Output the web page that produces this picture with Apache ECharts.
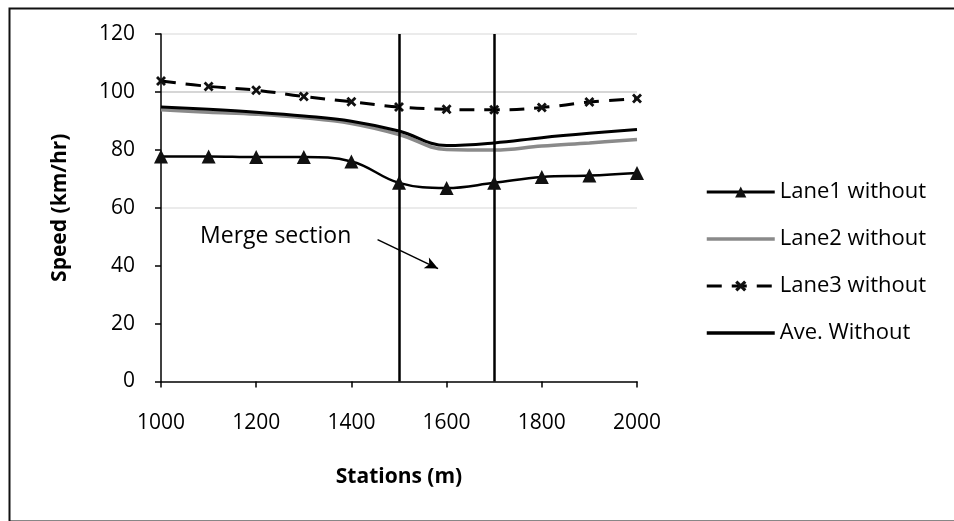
<!DOCTYPE html>
<html>
<head>
<meta charset="utf-8">
<script src="https://cdn.jsdelivr.net/npm/echarts@6/dist/echarts.min.js"></script>
<style>
html,body{margin:0;padding:0;background:#fff;}
#chart{width:954px;height:521px;}
</style>
</head>
<body>
<div id="chart"></div>
<script>
const stations = [1000, 1100, 1200, 1300, 1400, 1500, 1600, 1700, 1800, 1900, 2000];
const lane1 = [77.7, 77.7, 77.5, 77.5, 76.0, 68.6, 66.8, 68.6, 70.6, 71.1, 72.0];
const lane2 = [93.8, 93.0, 92.3, 91.1, 89.1, 85.3, 80.1, 79.9, 81.3, 82.4, 83.6];
const lane3 = [103.8, 101.9, 100.6, 98.4, 96.6, 94.8, 94.0, 93.8, 94.6, 96.5, 97.7];
const ave = [94.8, 94.0, 93.0, 91.7, 89.9, 86.5, 81.5, 82.4, 84.2, 85.7, 87.0];
const seriesNames = ['Lane1 without', 'Lane2 without', 'Lane3 without', 'Ave. Without'];
const mergeLines = [1500, 1700];
const annotation = {text: 'Merge section', textAt: [1082, 50], arrowFrom: [1455, 49], arrowTo: [1582, 39]};
const yTicks = {min: 0, max: 120, interval: 20};
const xTicks = {min: 1000, max: 2000, interval: 200};

const FONT = 'Open Sans';
const pair = (arr) => stations.map((s, i) => [s, arr[i]]);
const xMark = 'path://M0,2 L2,0 L5,3 L8,0 L10,2 L7,5 L10,8 L8,10 L5,7 L2,10 L0,8 L3,5 Z';
const noSymbol = {color: 'rgba(0,0,0,0)', borderWidth: 0};

const chart = echarts.init(document.getElementById('chart'));
chart.setOption({
  animation: false,
  backgroundColor: '#fff',
  textStyle: {fontFamily: FONT, color: '#000'},
  graphic: [{
    type: 'rect', left: 7, top: 6, shape: {width: 970, height: 513},
    style: {fill: 'none', stroke: '#111', lineWidth: 2}, z: -1
  }],
  grid: {left: 161, right: 317, top: 34, bottom: 521 - 381.5},
  legend: {
    orient: 'vertical', left: 705, top: 181, padding: 0,
    itemWidth: 68, itemHeight: 14, itemGap: 25,
    textStyle: {fontFamily: FONT, fontSize: 22, color: '#000'},
    data: [
      {name: seriesNames[0], lineStyle: {width: 3}},
      {name: seriesNames[1], itemStyle: noSymbol, lineStyle: {width: 3.5}},
      {name: seriesNames[2], lineStyle: {width: 3}},
      {name: seriesNames[3], itemStyle: noSymbol, lineStyle: {width: 3.5}}
    ]
  },
  xAxis: {
    type: 'value', min: xTicks.min, max: xTicks.max, interval: xTicks.interval,
    name: 'Stations (m)', nameLocation: 'middle', nameGap: 85,
    nameTextStyle: {fontFamily: FONT, fontSize: 21, fontWeight: 'bold', color: '#000'},
    axisLine: {lineStyle: {color: '#000', width: 1.5}},
    axisTick: {show: true, length: 6, lineStyle: {color: '#000', width: 1.5}},
    axisLabel: {fontFamily: FONT, fontSize: 21, color: '#000', margin: 31, formatter: v => String(v)},
    splitLine: {show: false}
  },
  yAxis: {
    type: 'value', min: yTicks.min, max: yTicks.max, interval: yTicks.interval,
    name: 'Speed (km/hr)', nameLocation: 'middle', nameGap: 90, nameRotate: 90,
    nameTextStyle: {fontFamily: FONT, fontSize: 21, fontWeight: 'bold', color: '#000'},
    axisLine: {show: true, lineStyle: {color: '#000', width: 1.5}},
    axisTick: {show: true, length: 6, lineStyle: {color: '#000', width: 1.5}},
    axisLabel: {fontFamily: FONT, fontSize: 21, color: '#000', margin: 26, formatter: v => String(v)},
    splitLine: {show: true, lineStyle: {color: ['rgba(0,0,0,0)', 'rgba(0,0,0,0)', 'rgba(0,0,0,0)', '#e4e4e4', 'rgba(0,0,0,0)', '#c8c8c8', '#e4e4e4'], width: 1.5}}
  },
  series: [
    {
      name: seriesNames[0], type: 'line', smooth: 0.4, data: pair(lane1),
      symbol: 'triangle', symbolSize: 14,
      lineStyle: {color: '#000', width: 2.5},
      itemStyle: {color: '#111'}, z: 5,
      markLine: {
        silent: true, symbol: ['none', 'none'], label: {show: false},
        lineStyle: {color: '#000', width: 2.5, type: 'solid'},
        data: mergeLines.map(v => ({xAxis: v}))
      }
    },
    {
      name: seriesNames[1], type: 'line', smooth: 0.4, data: pair(lane2),
      symbol: 'none',
      lineStyle: {color: '#8a8a8a', width: 3.5},
      itemStyle: {color: '#8a8a8a'}, z: 3
    },
    {
      name: seriesNames[2], type: 'line', smooth: 0.4, data: pair(lane3),
      symbol: xMark, symbolSize: 10,
      lineStyle: {color: '#000', width: 3, type: [15, 10]},
      itemStyle: {color: '#111'}, z: 4
    },
    {
      name: seriesNames[3], type: 'line', smooth: 0.4, data: pair(ave),
      symbol: 'none',
      lineStyle: {color: '#000', width: 3},
      itemStyle: {color: '#000'}, z: 4,
      markLine: {
        silent: true, symbol: ['none', 'arrow'], symbolSize: [9, 13],
        label: {show: false},
        lineStyle: {color: '#000', width: 1.5, type: 'solid'},
        data: [[{coord: annotation.arrowFrom}, {coord: annotation.arrowTo}]]
      },
      markPoint: {
        silent: true, symbol: 'circle', symbolSize: 0,
        label: {show: true, position: 'right', distance: 0, formatter: annotation.text,
          fontFamily: FONT, fontSize: 23, color: '#000'},
        data: [{coord: annotation.textAt}]
      }
    }
  ]
});
</script>
</body>
</html>
